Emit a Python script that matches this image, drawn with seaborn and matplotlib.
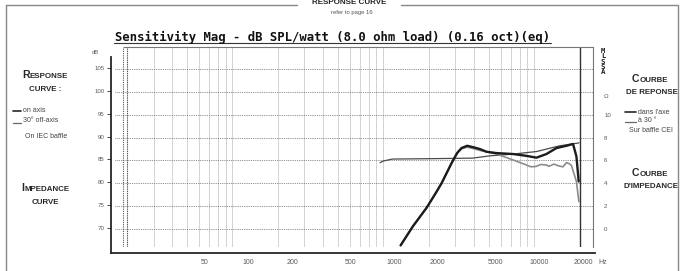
import matplotlib.pyplot as plt
import seaborn as sns
from matplotlib.lines import Line2D
from matplotlib.ticker import LogLocator, NullLocator, NullFormatter
from matplotlib.offsetbox import TextArea, HPacker, AnnotationBbox

# on-axis response, dB SPL/W
on_freq = [1300, 1570, 1930, 2190, 2430, 2830, 3080, 3290, 3590, 3930, 4350, 4820,
           5620, 7230, 8870, 10340, 12040, 14020, 16330, 18060, 19020, 19700]
on_db = [66.4, 70.6, 74.6, 77.5, 80.0, 84.4, 86.6, 87.7, 88.2, 87.9, 87.5, 86.9,
         86.6, 86.4, 86.0, 85.6, 86.4, 87.7, 88.2, 88.6, 85.9, 80.4]

# 30 deg off-axis response
off_freq = [1300, 1570, 1930, 2190, 2430, 2830, 3080, 3290, 3590, 3930, 4350, 5620,
            7230, 8870, 9500, 10340, 11000, 12040, 12500, 13500, 14500, 15500, 16330,
            17000, 17620, 19020, 19750]
off_db = [66.4, 70.6, 74.6, 77.5, 80.0, 84.4, 86.6, 87.5, 87.9, 87.6, 87.2, 86.4,
          85.1, 84.0, 83.6, 83.7, 84.1, 84.0, 83.7, 84.2, 83.8, 83.6, 84.5,
          84.3, 83.9, 80.4, 76.0]

# impedance, ohm
imp_freq = [950, 1000, 1150, 2000, 3000, 3900, 5070, 7200, 10380, 14740, 19100, 19800]
imp_ohm = [5.8, 5.95, 6.12, 6.15, 6.18, 6.2, 6.4, 6.55, 6.78, 7.28, 7.5, 7.54]

freq_ticks = [50, 100, 200, 500, 1000, 2000, 5000, 10000, 20000]
freq_labels = ['50', '100', '200', '500', '1000', '2000', '5000', '10000', '20000']
db_ticks = [70, 75, 80, 85, 90, 95, 100, 105]
ohm_ticks = [0, 2, 4, 6, 8, 10, 11.6]
ohm_labels = ['0', '2', '4', '6', '8', '10', 'Ω']

title = 'Sensitivity Mag - dB SPL/watt (8.0 ohm load) (0.16 oct)(eq)'

W, H = 683, 271

sns.set_style("white")
plt.rcParams['font.family'] = ['Liberation Sans', 'DejaVu Sans']

fig = plt.figure(figsize=(W / 100, H / 100), dpi=100)
fig.patch.set_facecolor('white')


def box(l, t, r, b):
    return [l / W, 1 - b / H, (r - l) / W, (b - t) / H]


def fx(x):
    return x / W


def fy(y):
    return 1 - y / H


ink = '#262626'
grey = '#5a5a5a'

# printed datasheet frame with its own labels
axf = fig.add_axes(box(111, 57, 595, 253))
axf.set_facecolor('none')
axf.set_xscale('log')
axf.set_xlim(11.27, 24190)
axf.set_ylim(64.53, 107.41)
axf.spines['top'].set_visible(False)
axf.spines['right'].set_visible(False)
for s in ['left', 'bottom']:
    axf.spines[s].set_linewidth(1.3)
    axf.spines[s].set_color(ink)
axf.set_xticks(freq_ticks, labels=freq_labels)
axf.xaxis.set_minor_locator(NullLocator())
axf.set_yticks(db_ticks, labels=[str(v) for v in db_ticks])
axf.tick_params(axis='x', length=0, pad=4, labelsize=5, labelcolor=grey)
axf.tick_params(axis='y', left=True, length=3, width=0.7, pad=1.5, labelsize=4.4,
                labelcolor=grey, color='#444444')
fig.text(fx(95), fy(53), 'dB', fontsize=4.2, color=grey, ha='center', va='center')
fig.text(fx(598), fy(262), 'Hz', fontsize=5, color=grey, ha='left', va='center')

# measurement plot
ax = fig.add_axes(box(115, 47, 593, 247))
ax.set_facecolor('none')
ax.set_xscale('log')
ax.set_xlim(16.65, 24500)
ax.set_ylim(66.06, 109.81)

sns.lineplot(x=imp_freq, y=[70 + 2.5 * z for z in imp_ohm], ax=ax, color='#4a4a4a', linewidth=0.9)
sns.lineplot(x=off_freq, y=off_db, ax=ax, color='#8c8c8c', linewidth=1.2)
sns.lineplot(x=on_freq, y=on_db, ax=ax, color='#1c1c1c', linewidth=1.7)

ax.xaxis.set_major_locator(LogLocator(base=10))
ax.xaxis.set_minor_locator(LogLocator(base=10, subs=range(2, 10)))
ax.xaxis.set_minor_formatter(NullFormatter())
ax.set_yticks(db_ticks)
ax.grid(which='both', axis='x', color='#858585', linewidth=0.6, linestyle=(0, (1, 1.4)))
ax.grid(which='major', axis='y', color='#6a6a6a', linewidth=0.6, linestyle=(0, (1, 1.2)))
ax.tick_params(which='both', length=0, labelbottom=False, labelleft=False)
ax.axvline(20000, color='#333333', linewidth=1.0)
ax.axvline(20, color='#555555', linewidth=0.8, linestyle=(0, (1, 1)))
ax.axvline(18.9, color='#555555', linewidth=0.8, linestyle=(0, (1, 1)))
ax.hlines(ax.get_ylim()[1], 18.9, 24500, color='#777777', linewidth=0.8, clip_on=False)
for s in ['top', 'left', 'bottom']:
    ax.spines[s].set_visible(False)
ax.spines['right'].set_color('#777777')
ax.spines['right'].set_linewidth(0.8)

sec = ax.secondary_yaxis('right', functions=(lambda d: (d - 70) / 2.5, lambda o: 70 + 2.5 * o))
sec.set_yticks(ohm_ticks, labels=ohm_labels)
sec.tick_params(length=0, pad=8, labelsize=4.4, labelcolor=grey)
sec.spines['right'].set_visible(False)

fig.text(fx(115), fy(41.5), title, family='DejaVu Sans Mono', fontweight='bold',
         fontsize=8.8, color='#111111', ha='left', va='baseline')
fig.add_artist(Line2D([fx(114), fx(551)], [fy(43.5), fy(43.5)], color='#333333', linewidth=0.8))
fig.text(fx(603), fy(48), 'M\nL\nS\nS\nA', family='DejaVu Sans Mono', fontweight='bold',
         fontsize=5.3, color='#222222', ha='center', va='top', linespacing=0.85)


def smallcaps(x, y, parts):
    kids = [TextArea(t, textprops=dict(fontsize=s, fontweight='bold', color=ink)) for t, s in parts]
    pack = HPacker(children=kids, align='baseline', pad=0, sep=0.3)
    fig.add_artist(AnnotationBbox(pack, (fx(x), fy(y)), xycoords='figure fraction',
                                  frameon=False, box_alignment=(0.5, 0.5)))


# side notes, English
smallcaps(45, 75, [('R', 7.5), ('ESPONSE', 5.7)])
smallcaps(45, 90, [('CURVE :', 5.7)])
smallcaps(45, 188, [('I', 7.5), ('MPEDANCE', 5.7)])
smallcaps(45, 203, [('CURVE', 5.7)])
fig.add_artist(Line2D([fx(13), fx(21)], [fy(111), fy(111)], color=ink, linewidth=1.2))
fig.add_artist(Line2D([fx(13), fx(21)], [fy(123.5), fy(123.5)], color='#666666', linewidth=0.9))
fig.text(fx(23), fy(111), 'on axis', fontsize=5, color='#444444', va='center')
fig.text(fx(23), fy(121), '30° off-axis', fontsize=5, color='#444444', va='center')
fig.text(fx(46), fy(137), 'On IEC baffle', fontsize=5, color='#444444', va='center', ha='center')

# side notes, French
smallcaps(650, 79, [('C', 7.5), ('OURBE', 5.7)])
smallcaps(652, 93, [('DE REPONSE', 5.7)])
smallcaps(650, 173, [('C', 7.5), ('OURBE', 5.7)])
smallcaps(651, 186, [("D'IMPEDANCE", 5.7)])
fig.add_artist(Line2D([fx(625), fx(636)], [fy(112), fy(112)], color=ink, linewidth=1.2))
fig.add_artist(Line2D([fx(625), fx(636)], [fy(122), fy(122)], color='#666666', linewidth=0.9))
fig.text(fx(638), fy(112), "dans l'axe", fontsize=5, color='#444444', va='center')
fig.text(fx(638), fy(120), 'à 30 °', fontsize=5, color='#444444', va='center')
fig.text(fx(651), fy(131), 'Sur baffle CEI', fontsize=5, color='#444444', va='center', ha='center')

# page frame and heading
for xs, ys in [([6, 297], [5, 5]), ([401, 678], [5, 5]), ([6, 6], [5, 271]), ([678, 678], [5, 271])]:
    fig.add_artist(Line2D([fx(v) for v in xs], [fy(v) for v in ys], color='#888888', linewidth=1.0))
fig.text(fx(349), fy(3), 'RESPONSE CURVE', fontsize=5.8, fontweight='bold', color=ink,
         ha='center', va='center')
fig.text(fx(352), fy(12.5), 'refer to page 16', fontsize=4.2, color='#555555',
         ha='center', va='center')

fig.savefig('out.png', dpi=100, facecolor='white')
